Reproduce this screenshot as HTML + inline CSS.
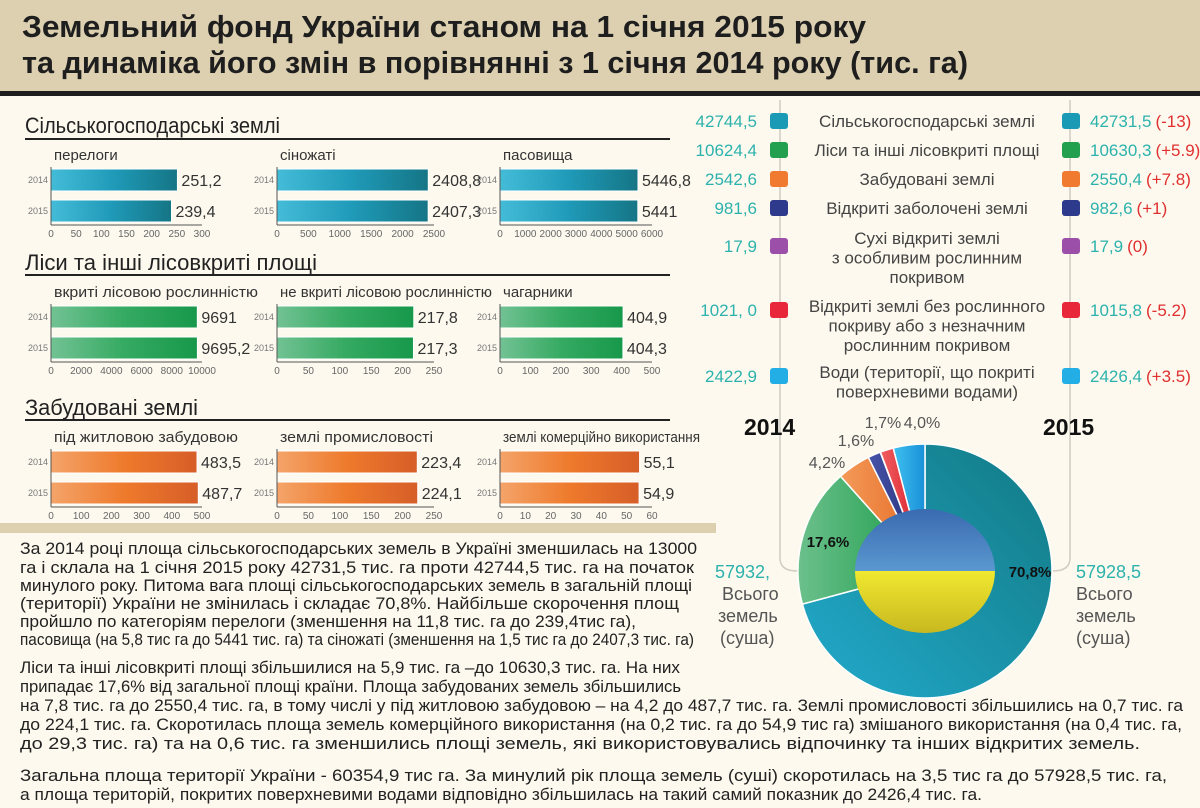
<!DOCTYPE html>
<html><head><meta charset="utf-8">
<style>
html,body{margin:0;padding:0;background:#fdf9ee;}
svg{display:block;font-family:"Liberation Sans","DejaVu Sans",sans-serif;}
</style></head>
<body>
<svg id="root" width="1200" height="808" viewBox="0 0 1200 808" xmlns="http://www.w3.org/2000/svg">
<defs>
<linearGradient id="gTeal" x1="0" x2="1" y1="0" y2="0"><stop offset="0" stop-color="#44bcd8"/><stop offset="0.5" stop-color="#1f9ab8"/><stop offset="1" stop-color="#157585"/></linearGradient>
<linearGradient id="gGreen" x1="0" x2="1" y1="0" y2="0"><stop offset="0" stop-color="#72c293"/><stop offset="0.5" stop-color="#35aa62"/><stop offset="1" stop-color="#17984a"/></linearGradient>
<linearGradient id="gOrange" x1="0" x2="1" y1="0" y2="0"><stop offset="0" stop-color="#f4a46a"/><stop offset="0.5" stop-color="#ee7a2c"/><stop offset="1" stop-color="#d65e28"/></linearGradient>
<linearGradient id="dTeal" x1="0" x2="1" y1="1" y2="0"><stop offset="0" stop-color="#22aacc"/><stop offset="1" stop-color="#127a84"/></linearGradient>
<linearGradient id="dGreen" x1="0" x2="1"><stop offset="0" stop-color="#6cc08c"/><stop offset="1" stop-color="#1a9c48"/></linearGradient>
<linearGradient id="dOrange" x1="0" x2="1"><stop offset="0" stop-color="#f49a5a"/><stop offset="1" stop-color="#e46a22"/></linearGradient>
<linearGradient id="dBlue" x1="0" x2="1"><stop offset="0" stop-color="#4654a8"/><stop offset="1" stop-color="#262e78"/></linearGradient>
<linearGradient id="dPurple" x1="0" x2="1"><stop offset="0" stop-color="#b070c0"/><stop offset="1" stop-color="#803a98"/></linearGradient>
<linearGradient id="dRed" x1="0" x2="1"><stop offset="0" stop-color="#f06060"/><stop offset="1" stop-color="#d81828"/></linearGradient>
<linearGradient id="dWater" x1="0" x2="1"><stop offset="0" stop-color="#3ec0f0"/><stop offset="1" stop-color="#1a90d8"/></linearGradient>
<linearGradient id="flagB" x1="0" y1="0" x2="0" y2="1"><stop offset="0" stop-color="#3a6ab0"/><stop offset="1" stop-color="#5a98d0"/></linearGradient>
<linearGradient id="flagY" x1="0" y1="0" x2="0" y2="1"><stop offset="0" stop-color="#f0e830"/><stop offset="1" stop-color="#c8b820"/></linearGradient>
</defs>

<!-- header -->
<rect x="0" y="0" width="1200" height="91" fill="#dcd0b0"/>
<rect x="0" y="91" width="1200" height="5" fill="#1e1e1e"/>
<text x="22" y="37" font-size="31" font-weight="bold" fill="#1e1e1e" textLength="844" lengthAdjust="spacingAndGlyphs">Земельний фонд України станом на 1 січня 2015 року</text>
<text x="22" y="73" font-size="31" font-weight="bold" fill="#1e1e1e" textLength="946" lengthAdjust="spacingAndGlyphs">та динаміка його змін в порівнянні з 1 січня 2014 року (тис. га)</text>

<!-- section headings -->
<text x="25" y="133" font-size="22" fill="#222" textLength="255" lengthAdjust="spacingAndGlyphs">Сільськогосподарські землі</text>
<rect x="25" y="138" width="645" height="2" fill="#222"/>
<text x="25" y="270" font-size="22" fill="#222" textLength="292" lengthAdjust="spacingAndGlyphs">Ліси та інші лісовкриті площі</text>
<rect x="25" y="274" width="645" height="2" fill="#222"/>
<text x="25" y="415" font-size="22" fill="#222" textLength="173" lengthAdjust="spacingAndGlyphs">Забудовані землі</text>
<rect x="25" y="419" width="645" height="2" fill="#222"/>

<g id="bars"></g>

<!-- connector lines -->
<path d="M780 100 V558 Q780 571 797 571" fill="none" stroke="#d0ccc4" stroke-width="1.5"/>
<path d="M1070 100 V558 Q1070 571 1053 571" fill="none" stroke="#d0ccc4" stroke-width="1.5"/>

<g id="legend"></g>

<text x="744" y="435" font-size="23" font-weight="bold" fill="#111">2014</text>
<text x="1043" y="435" font-size="23" font-weight="bold" fill="#111">2015</text>

<g id="donut"></g>

<g font-size="18">
<text x="715" y="578" fill="#2cb2ad">57932,</text>
<text x="722" y="600" fill="#555">Всього</text>
<text x="718" y="622" fill="#555">земель</text>
<text x="720" y="644" fill="#555">(суша)</text>
</g>
<g font-size="18">
<text x="1076" y="578" fill="#2cb2ad">57928,5</text>
<text x="1076" y="600" fill="#555">Всього</text>
<text x="1076" y="622" fill="#555">земель</text>
<text x="1076" y="644" fill="#555">(суша)</text>
</g>

<rect x="0" y="523" width="716" height="10" fill="#dcd0b0"/>

<g font-size="17" fill="#222">
<text x="20" y="554" textLength="677" lengthAdjust="spacingAndGlyphs">За  2014 році площа сільськогосподарських земель в Україні зменшилась на 13000</text>
<text x="20" y="573" textLength="674" lengthAdjust="spacingAndGlyphs">га  і склала на 1 січня 2015 року 42731,5 тис. га  проти 42744,5 тис. га на початок</text>
<text x="20" y="591" textLength="672" lengthAdjust="spacingAndGlyphs">минулого року. Питома вага площі сільськогосподарських земель в загальній площі</text>
<text x="20" y="609" textLength="659" lengthAdjust="spacingAndGlyphs">(території) України не змінилась і складає  70,8%. Найбільше скорочення площ</text>
<text x="20" y="627" textLength="616" lengthAdjust="spacingAndGlyphs">пройшло по категоріям перелоги (зменшення на 11,8 тис. га до 239,4тис га),</text>
<text x="20" y="645" textLength="674" lengthAdjust="spacingAndGlyphs">пасовища (на 5,8 тис га до 5441 тис. га) та сіножаті (зменшення на 1,5 тис га до 2407,3 тис. га)</text>
<text x="20" y="673" textLength="660" lengthAdjust="spacingAndGlyphs">Ліси та інші лісовкриті площі збільшилися на 5,9 тис. га –до 10630,3 тис. га.  На них</text>
<text x="20" y="692" textLength="661" lengthAdjust="spacingAndGlyphs">припадає  17,6% від загальної площі країни. Площа забудованих земель  збільшились</text>
<text x="20" y="711" textLength="1163" lengthAdjust="spacingAndGlyphs">на 7,8 тис. га до 2550,4 тис. га, в тому числі у під житловою забудовою – на 4,2 до 487,7 тис. га. Землі промисловості збільшились на 0,7 тис. га</text>
<text x="20" y="730" textLength="1162" lengthAdjust="spacingAndGlyphs">до 224,1 тис. га. Скоротилась площа земель комерційного  використання (на 0,2 тис. га до 54,9 тис га) змішаного використання (на 0,4 тис. га,</text>
<text x="20" y="749" textLength="1120" lengthAdjust="spacingAndGlyphs">до 29,3 тис. га) та на 0,6 тис. га зменшились площі земель, які використовувались відпочинку та інших відкритих земель.</text>
<text x="20" y="781" textLength="1147" lengthAdjust="spacingAndGlyphs">Загальна площа території України - 60354,9 тис га. За минулий рік площа земель (суші) скоротилась на 3,5 тис га до 57928,5 тис. га,</text>
<text x="20" y="800" textLength="962" lengthAdjust="spacingAndGlyphs">а площа територій, покритих поверхневими водами відповідно збільшилась на такий самий показник до 2426,4 тис. га.</text>
</g>
</svg>

<script>
// ---- bar chart data ----
const chartTitles = ["перелоги","сіножаті","пасовища","вкриті лісовою рослинністю","не вкриті лісовою рослинністю","чагарники","під житловою забудовою","землі промисловості","землі комерційно використання"];
const values2014 = [251.2, 2408.8, 5446.8, 9691, 217.8, 404.9, 483.5, 223.4, 55.1];
const values2015 = [239.4, 2407.3, 5441, 9695.2, 217.3, 404.3, 487.7, 224.1, 54.9];
const labels2014 = ["251,2","2408,8","5446,8","9691","217,8","404,9","483,5","223,4","55,1"];
const labels2015 = ["239,4","2407,3","5441","9695,2","217,3","404,3","487,7","224,1","54,9"];
const axisMax = [300, 2500, 6000, 10000, 250, 500, 500, 250, 60];
const ticks0 = [0,50,100,150,200,250,300];
const ticks1 = [0,500,1000,1500,2000,2500];
const ticks2 = [0,1000,2000,3000,4000,5000,6000];
const ticks3 = [0,2000,4000,6000,8000,10000];
const ticks4 = [0,50,100,150,200,250];
const ticks5 = [0,100,200,300,400,500];
const ticks6 = [0,100,200,300,400,500];
const ticks7 = [0,50,100,150,200,250];
const ticks8 = [0,10,20,30,40,50,60];
const tickSets = [ticks0,ticks1,ticks2,ticks3,ticks4,ticks5,ticks6,ticks7,ticks8];

// ---- donut / legend data ----
const landNames = ["Сільськогосподарські землі","Ліси та інші лісовкриті площі","Забудовані землі","Відкриті заболочені землі","Сухі відкриті землі|з особливим рослинним|покривом","Відкриті землі без рослинного|покриву або з незначним|рослинним покривом","Води (території, що покриті|поверхневими водами)"];
const land2014Labels = ["42744,5","10624,4","2542,6","981,6","17,9","1021, 0","2422,9"];
const land2015Labels = ["42731,5","10630,3","2550,4","982,6","17,9","1015,8","2426,4"];
const landDelta = ["(-13)","(+5.9)","(+7.8)","(+1)","(0)","(-5.2)","(+3.5)"];
const land2015 = [42731.5, 10630.3, 2550.4, 982.6, 17.9, 1015.8, 2426.4];
const percentLabels = ["70,8%","17,6%","4,2%","1,6%","","1,7%","4,0%"];

const NS = "http://www.w3.org/2000/svg";
function mk(tag, attrs, parent){const e=document.createElementNS(NS,tag);for(const k in attrs)e.setAttribute(k,attrs[k]);parent.appendChild(e);return e;}

// layout (pixels)
const colX = [51, 277, 500];
const colW = [151, 157, 152];
const rowTop = [169, 306, 451];
const barH = 22, barGap = 31;
const fills = ["url(#gTeal)","url(#gGreen)","url(#gOrange)"];
const titleW = [null,null,null,204,212,null,184,153,197];

const barsG = document.getElementById('bars');
for (let i=0;i<9;i++){
  const r=Math.floor(i/3), c=i%3;
  const x0=colX[c], w=colW[c], y0=rowTop[r];
  const sx = v => x0 + v/axisMax[i]*w;
  const g = mk('g',{},barsG);
  
  
  const t = mk('text',{x:x0+3,y:y0-9,'font-size':15,fill:'#333'},g);
  if(titleW[i]){t.setAttribute('textLength',titleW[i]);t.setAttribute('lengthAdjust','spacingAndGlyphs');}
  t.textContent = chartTitles[i];
  
  
  [[values2014,labels2014,'2014'],[values2015,labels2015,'2015']].forEach((s,k)=>{
    const y = y0 + k*barGap;
    const b = mk('rect',{x:x0,y:y,width:Math.max(0,sx(s[0][i])-x0),height:barH,fill:fills[r],stroke:'#fff','stroke-width':1},g);
    
    
    const yl = mk('text',{x:x0-3,y:y+barH/2+3,'font-size':9,fill:'#777','text-anchor':'end'},g);
    yl.textContent = s[2];
    
    
    const vl = mk('text',{x:sx(s[0][i])+4,y:y+barH/2+6,'font-size':16,fill:'#333'},g);
    vl.textContent = s[1][i];
    
    
  });
  const axY = y0 + barGap + barH + 3;
  const ax = mk('line',{x1:x0,x2:x0+w,y1:axY,y2:axY,stroke:'#555','stroke-width':1},g);
  
  
  mk('line',{x1:x0,x2:x0,y1:y0-2,y2:axY,stroke:'#555','stroke-width':1},g);
  tickSets[i].forEach(tv=>{
    const tl = mk('text',{x:sx(tv),y:axY+12,'font-size':10,fill:'#666','text-anchor':'middle'},g);
    tl.textContent = tv;
    
    
  });
}

// legend
const legColors = ["#1a9ab5","#22a050","#f07a30","#2e3a8c","#9b4fa8","#e8283a","#23aee6"];
const legY = [121,150,179,208,246,310,376];
const legFirstOff = [0,0,0,0,-8,-4,-4];
const legG = document.getElementById('legend');
for (let i=0;i<7;i++){
  const y=legY[i];
  const g=mk('g',{},legG);
  
  
  const a=mk('text',{x:757,y:y+6,'font-size':17,fill:'#2cb2ad','text-anchor':'end'},g); a.textContent=land2014Labels[i];
  mk('rect',{x:770,y:y-8,width:18,height:16,rx:3,fill:legColors[i]},g);
  mk('rect',{x:1062,y:y-8,width:18,height:16,rx:3,fill:legColors[i]},g);
  const b=mk('text',{x:1090,y:y+6,'font-size':17,fill:'#2cb2ad'},g); b.textContent=land2015Labels[i];
  const bw=b.getComputedTextLength();
  const d=mk('text',{x:1090+bw+4,y:y+6,'font-size':17,fill:'#e03030'},g); d.textContent=landDelta[i];
  const lines=landNames[i].split('|');
  const top = y + legFirstOff[i];
  lines.forEach((ln,j)=>{
    const t=mk('text',{x:927,y:top+j*19.5+6,'font-size':17,fill:'#444','text-anchor':'middle'},g);
    t.textContent=ln;
  });
}

// donut
const cx=925, cy=571, R=127;
const donutFills=["url(#dTeal)","url(#dGreen)","url(#dOrange)","url(#dBlue)","url(#dPurple)","url(#dRed)","url(#dWater)"];
const dG=document.getElementById('donut');
const total=land2015.reduce((a,b)=>a+b,0);
let ang=0;
function pt(a,r){return [cx+r*Math.sin(a), cy-r*Math.cos(a)];}
land2015.forEach((v,i)=>{
  const a1=ang, a2=ang+v/total*2*Math.PI; ang=a2;
  const p1=pt(a1,R), p2=pt(a2,R);
  const large=(a2-a1)>Math.PI?1:0;
  const p=mk('path',{d:`M${cx} ${cy} L${p1[0]} ${p1[1]} A${R} ${R} 0 ${large} 1 ${p2[0]} ${p2[1]} Z`,fill:donutFills[i],stroke:'#fff','stroke-width':1.5},dG);
  
  
});
// flag center
const fb=mk('path',{d:`M${cx-70} ${cy} A70 62 0 0 1 ${cx+70} ${cy} Z`,fill:'url(#flagB)'},dG);


const fy=mk('path',{d:`M${cx-70} ${cy} A70 62 0 0 0 ${cx+70} ${cy} Z`,fill:'url(#flagY)'},dG);


// percent labels
const lblPos=[[1030,577,1],[828,547,1],[827,468,0],[856,446,0],null,[883,428,0],[922,428,0]];
percentLabels.forEach((s,i)=>{
  if(!s) return;
  const lp=lblPos[i];
  const t=mk('text',{x:lp[0],y:lp[1],'font-size':lp[2]?15:16,'font-weight':lp[2]?'bold':'normal',fill:lp[2]?'#111':'#555','text-anchor':'middle'},dG);
  t.textContent=s;
  
  
});
</script>
</body></html>
